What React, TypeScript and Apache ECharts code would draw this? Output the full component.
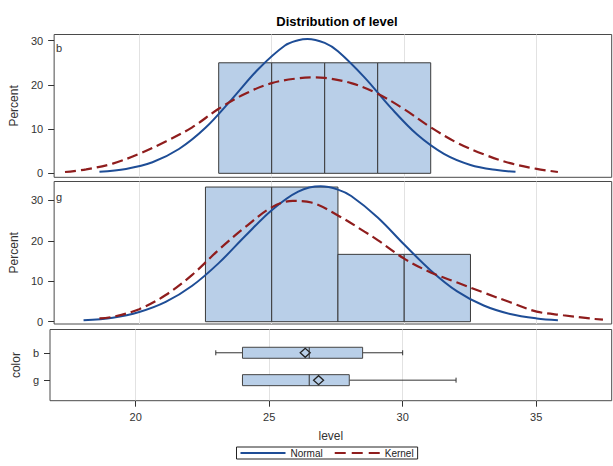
import React, { useEffect, useRef } from "react";
import * as echarts from "echarts";

// ---- data ----
const xTicks = [20, 25, 30, 35];
const pctTicks = [0, 10, 20, 30];
const groups = ["b", "g"];

// histogram bins: [left edge, right edge, percent]
const histB = [
  [23, 25, 25],
  [25, 27, 25],
  [27, 29, 25],
  [29, 31, 25],
];
const histG = [
  [22.5, 25, 33.33],
  [25, 27.5, 33.33],
  [27.5, 30, 16.67],
  [30, 32.5, 16.67],
];

const normalB = [
  [18.5, 0.34], [19.5, 1.0], [20.5, 2.5], [21.5, 5.5], [22.5, 10.3], [23.5, 16.8],
  [24.5, 23.6], [25.5, 28.9], [26.0, 30.1], [26.35, 30.4], [27.0, 29.5], [27.5, 27.6],
  [28.5, 21.7], [29.5, 14.8], [30.5, 8.7], [31.5, 4.4], [32.5, 1.9], [33.5, 0.74], [34.2, 0.34],
];
const kernelB = [
  [17.2, 0.3], [18, 0.9], [19, 2.2], [20, 4.4], [21, 7.2], [22, 10.4], [23, 14.6],
  [24, 18.0], [25, 20.4], [26, 21.5], [26.6, 21.7], [27, 21.6], [28, 20.4], [29, 18.0],
  [30, 14.5], [31, 10.4], [32, 6.9], [33, 4.3], [34, 2.3], [35, 1.0], [35.8, 0.3],
];
const normalG = [
  [17.9, 0.37], [19, 1.0], [20, 2.4], [21, 4.9], [22, 8.9], [23, 14.5], [24, 21.2],
  [25, 27.6], [26, 32.2], [26.85, 33.5], [27.5, 32.7], [28, 31.1], [29, 25.8], [30, 19.1],
  [31, 12.7], [32, 7.5], [33, 4.0], [34, 1.9], [35, 0.8], [35.8, 0.37],
];
const kernelG = [
  [18.5, 0.8], [19, 1.2], [20, 3.1], [21, 6.6], [22, 11.6], [23, 17.8], [24, 23.4],
  [25, 28.3], [25.8, 29.9], [26.5, 29.5], [27.5, 26.3], [28.5, 22.3], [29, 20.2],
  [30, 15.6], [31, 12.2], [32, 9.7], [33, 7.2], [34, 4.8], [35, 2.5], [36, 1.6],
  [37, 0.8], [37.5, 0.5],
];

// box plot: [row, whiskerLow, q1, median, q3, whiskerHigh, mean]
const boxStats = [
  [1, 23, 24, 26.5, 28.5, 30, 26.35],
  [2, 24, 24, 26.5, 28, 32, 26.85],
];

const FONT = "Liberation Sans, Arial, sans-serif";
const BLUE = "#1E4D96";
const RED = "#8F1D1D";
const FILL = "#B9CFE8";
const X_MIN = 16.79;
const X_MAX = 37.83;

export default function App() {
  const ref = useRef<HTMLDivElement>(null);

  useEffect(() => {
    if (!ref.current) return;
    const chart = echarts.init(ref.current, undefined, { renderer: "svg" });

    const gridBase = {
      left: 50,
      width: 561.7,
      show: true,
      borderColor: "#4a4a4a",
      borderWidth: 1,
      backgroundColor: "transparent",
    };

    const xAxis = [0, 1, 2].map((i) => ({
      type: "value",
      gridIndex: i,
      min: X_MIN,
      max: X_MAX,
      axisLine: { show: false, onZero: false },
      axisTick: {
        show: i === 2,
        customValues: xTicks,
        length: 6,
        lineStyle: { color: "#333" },
      },
      axisLabel: {
        show: i === 2,
        customValues: xTicks,
        margin: 11,
        fontSize: 11,
        color: "#333",
        fontFamily: FONT,
      },
      splitLine: { show: true, lineStyle: { color: "#e2e2e2", width: 1 } },
      name: i === 2 ? "level" : "",
      nameLocation: "middle",
      nameGap: 29,
      nameTextStyle: { fontSize: 12, color: "#333", fontFamily: FONT },
    }));

    const pctAxis = (i: number, min: number, max: number) => ({
      type: "value",
      gridIndex: i,
      min,
      max,
      axisLine: { show: false, onZero: false },
      axisTick: {
        show: true,
        customValues: pctTicks,
        length: 6,
        lineStyle: { color: "#333" },
      },
      axisLabel: {
        customValues: pctTicks,
        margin: 11,
        fontSize: 11,
        color: "#333",
        fontFamily: FONT,
      },
      splitLine: { show: false },
      name: "Percent",
      nameLocation: "middle",
      nameGap: 27,
      nameTextStyle: { fontSize: 12, color: "#333", fontFamily: FONT },
    });

    const histRender = (params: any, api: any) => {
      const p0 = api.coord([api.value(0), api.value(2)]);
      const p1 = api.coord([api.value(1), 0]);
      return {
        type: "rect",
        shape: { x: p0[0], y: p0[1], width: p1[0] - p0[0], height: p1[1] - p0[1] },
        style: { fill: FILL, stroke: "#3a3a3a", lineWidth: 1 },
      };
    };

    const boxRender = (params: any, api: any) => {
      const row = api.value(0);
      const lo = api.coord([api.value(1), row]);
      const q1 = api.coord([api.value(2), row]);
      const med = api.coord([api.value(3), row]);
      const q3 = api.coord([api.value(4), row]);
      const hi = api.coord([api.value(5), row]);
      const mean = api.coord([api.value(6), row]);
      const y = lo[1];
      const h = 11;
      const stroke = { stroke: "#333", lineWidth: 1 };
      return {
        type: "group",
        children: [
          { type: "line", shape: { x1: lo[0], y1: y, x2: q1[0], y2: y }, style: stroke },
          { type: "line", shape: { x1: q3[0], y1: y, x2: hi[0], y2: y }, style: stroke },
          { type: "line", shape: { x1: lo[0], y1: y - 2.5, x2: lo[0], y2: y + 2.5 }, style: stroke },
          { type: "line", shape: { x1: hi[0], y1: y - 2.5, x2: hi[0], y2: y + 2.5 }, style: stroke },
          {
            type: "rect",
            shape: { x: q1[0], y: y - h / 2, width: q3[0] - q1[0], height: h },
            style: { fill: FILL, stroke: "#444", lineWidth: 1 },
          },
          {
            type: "polygon",
            shape: {
              points: [
                [mean[0] - 5, y],
                [mean[0], y - 4.5],
                [mean[0] + 5, y],
                [mean[0], y + 4.5],
              ],
            },
            style: { fill: FILL, stroke: "#222", lineWidth: 1.3 },
          },
          { type: "line", shape: { x1: med[0], y1: y - h / 2, x2: med[0], y2: y + h / 2 }, style: stroke },
        ],
      };
    };

    const lineSeries = (name: string, data: number[][], idx: number, color: string, dashed: boolean) => ({
      type: "line",
      name,
      xAxisIndex: idx,
      yAxisIndex: idx,
      data,
      smooth: 0.35,
      symbol: "none",
      color,
      lineStyle: { color, width: dashed ? 2.2 : 2, type: dashed ? [11, 5] : "solid" },
      z: 3,
    });

    chart.setOption({
      animation: false,
      grid: [
        { ...gridBase, top: 34.5, height: 142.8 },
        { ...gridBase, top: 181.5, height: 142.5 },
        { ...gridBase, top: 329.5, height: 71.2 },
      ],
      xAxis,
      yAxis: [
        pctAxis(0, -0.9, 31.4),
        pctAxis(1, -0.57, 34.7),
        {
          type: "value",
          gridIndex: 2,
          min: 0.15,
          max: 2.75,
          inverse: true,
          axisLine: { show: false, onZero: false },
          axisTick: { show: true, customValues: [1, 2], length: 6, lineStyle: { color: "#333" } },
          axisLabel: {
            customValues: [1, 2],
            formatter: (v: number) => groups[Math.round(v) - 1] ?? "",
            margin: 11,
            fontSize: 11,
            color: "#333",
            fontFamily: FONT,
          },
          splitLine: { show: false },
          name: "color",
          nameLocation: "middle",
          nameGap: 27,
          nameTextStyle: { fontSize: 12, color: "#333", fontFamily: FONT },
        },
      ],
      legend: {
        data: [
          { name: "Normal", icon: "path://M0,0H45V2H0Z" },
          { name: "Kernel", icon: "path://M0,0H11V2H0Z M17,0H28V2H17Z M34,0H45V2H34Z" },
        ],
        left: 236.5,
        top: 447,
        itemWidth: 45,
        itemHeight: 2.2,
        itemGap: 12,
        padding: [1, 4],
        borderColor: "#222",
        borderWidth: 1,
        textStyle: { fontSize: 10, color: "#222", fontFamily: FONT },
      },
      graphic: [
        {
          type: "text",
          x: 337,
          y: 21,
          style: {
            text: "Distribution of level",
            fontSize: 13,
            fontWeight: "bold",
            fontFamily: FONT,
            fill: "#000",
            align: "center",
            verticalAlign: "middle",
          },
        },
        {
          type: "text",
          x: 56,
          y: 48,
          style: { text: "b", fontSize: 11, fontFamily: FONT, fill: "#333", verticalAlign: "middle" },
        },
        {
          type: "text",
          x: 56,
          y: 197,
          style: { text: "g", fontSize: 11, fontFamily: FONT, fill: "#333", verticalAlign: "middle" },
        },
      ],
      series: [
        {
          type: "custom",
          name: "hist b",
          xAxisIndex: 0,
          yAxisIndex: 0,
          data: histB,
          encode: { x: [0, 1], y: 2 },
          renderItem: histRender,
        },
        lineSeries("Normal", normalB, 0, BLUE, false),
        lineSeries("Kernel", kernelB, 0, RED, true),
        {
          type: "custom",
          name: "hist g",
          xAxisIndex: 1,
          yAxisIndex: 1,
          data: histG,
          encode: { x: [0, 1], y: 2 },
          renderItem: histRender,
        },
        lineSeries("Normal", normalG, 1, BLUE, false),
        lineSeries("Kernel", kernelG, 1, RED, true),
        {
          type: "custom",
          name: "box",
          xAxisIndex: 2,
          yAxisIndex: 2,
          data: boxStats,
          encode: { x: [1, 2, 3, 4, 5, 6], y: 0 },
          renderItem: boxRender,
        },
      ],
    });

    return () => chart.dispose();
  }, []);

  return (
    <div
      ref={ref}
      style={{ position: "absolute", left: 0, top: 0, width: 613, height: 466 }}
    />
  );
}
